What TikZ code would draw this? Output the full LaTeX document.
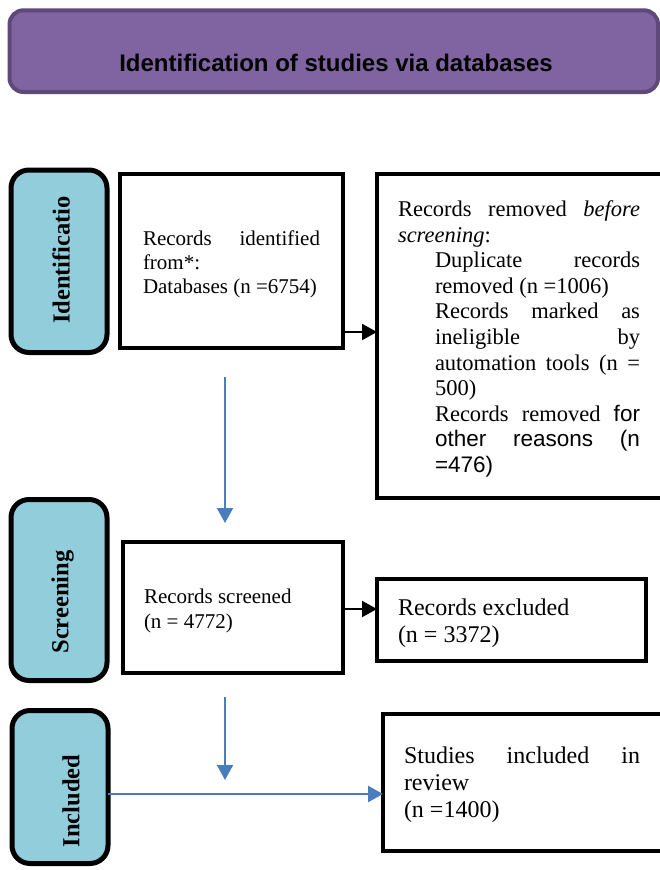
\documentclass[tikz,border=0pt]{standalone}
\usepackage{fontspec}
\setmainfont{Liberation Serif}
\newfontfamily\arialf{Liberation Sans}
\usetikzlibrary{arrows.meta}
\definecolor{bannerfill}{HTML}{8064A2}
\definecolor{bannerline}{HTML}{5F497A}
\definecolor{stagefill}{HTML}{92CDDC}
\definecolor{flowblue}{HTML}{4A7EBB}
\begin{document}
\begin{tikzpicture}[x=1pt,y=-1pt,
  every node/.style={inner sep=0pt, outer sep=0pt},
  banner/.style={draw=bannerline, fill=bannerfill, line width=4pt, rounded corners=14pt},
  stage/.style={draw=black, fill=stagefill, line width=5pt, rounded corners=18pt, minimum width=96pt},
  stagetext/.style={rotate=90, font=\fontsize{24.5}{29}\selectfont\bfseries},
  flowbox/.style={draw=black, fill=white, line width=4pt},
  txt/.style={anchor=base west, align=left},
  blackarrow/.style={line width=2pt, -{Triangle[length=15pt,width=16pt]}},
  bluearrow/.style={draw=flowblue, line width=2.2pt, -{Triangle[length=15pt,width=16pt]}, color=flowblue}]
\useasboundingbox (0,0) rectangle (660,870);
\clip (0,0) rectangle (660,870);
\fill[white] (0,0) rectangle (660,870);

% banner
\node[banner, minimum width=648.5pt, minimum height=81.7pt] (banner) at (333.75,51.15) {};
\node[anchor=base, font=\arialf\fontsize{24}{28}\selectfont\bfseries] (bannertext) at (336,71.5) {Identification of studies via databases};

% stage labels
\node[stage, minimum height=182.5pt] (lbl1) at (59,261.25) {};
\node[stagetext] (lbl1t) at (61,260) {Identificatio};
\node[stage, minimum height=181pt] (lbl2) at (59,590) {};
\node[stagetext] (lbl2t) at (62.5,602) {Screening};
\node[stage, minimum height=153pt] (lbl3) at (60,787) {};
\node[stagetext] (lbl3t) at (71,801) {Included};

% flow boxes
\node[flowbox, minimum width=223pt, minimum height=174.3pt] (b1) at (231.5,260.85) {};
\node[flowbox, minimum width=323pt, minimum height=323.7pt] (removed) at (538.5,335.85) {};
\node[flowbox, minimum width=220pt, minimum height=131pt] (screened) at (233,607.5) {};
\node[flowbox, minimum width=269pt, minimum height=82pt] (excluded) at (511.5,620) {};
\node[flowbox, minimum width=317pt, minimum height=137pt] (studies) at (541.5,782.5) {};

% texts
\node[txt] (b1t) at (143,245) {\vtop{\fontsize{21}{24}\selectfont\lineskiplimit=-50pt
  \hbox to 177pt{Records\hfill identified}
  \hbox{from*:}
  \hbox{Databases (n =6754)}}};

\node[txt] (removedt) at (398,216.5) {\vtop{\fontsize{22.5}{25.6}\selectfont\lineskiplimit=-50pt
  \hbox to 242pt{Records\hfill removed\hfill \textit{before}}
  \hbox{\textit{screening}:}
  \hbox{\hspace{37pt}\hbox to 205pt{Duplicate\hfill records}}
  \hbox{\hspace{37pt}removed (n =1006)}
  \hbox{\hspace{37pt}\hbox to 205pt{Records\hfill marked\hfill as}}
  \hbox{\hspace{37pt}\hbox to 205pt{ineligible\hfill by}}
  \hbox{\hspace{37pt}\hbox to 205pt{automation\hfill tools\hfill (n\hfill =}}
  \hbox{\hspace{37pt}500)}
  \hbox{\hspace{37pt}\hbox to 205pt{Records\hfill removed\hfill {\arialf for}}}
  \hbox{\hspace{37pt}\hbox to 205pt{\arialf other\hfill reasons\hfill (n}}
  \hbox{\hspace{37pt}{\arialf =476)}}}};

\node[txt] (screenedt) at (144,603) {\vtop{\fontsize{21}{25}\selectfont\lineskiplimit=-50pt
  \hbox{Records screened}
  \hbox{(n = 4772)}}};

\node[txt] (excludedt) at (398,615) {\vtop{\fontsize{24}{27}\selectfont\lineskiplimit=-50pt
  \hbox{Records excluded}
  \hbox{(n = 3372)}}};

\node[txt] (studiest) at (404,763) {\vtop{\fontsize{24}{27}\selectfont\lineskiplimit=-50pt
  \hbox to 236pt{Studies\hfill included\hfill in}
  \hbox{review}
  \hbox{(n =1400)}}};

% connectors
\coordinate (a1y) at (0,332);
\coordinate (a2y) at (0,609);
\coordinate (a3y) at (0,794);
\draw[blackarrow] (b1.east |- a1y) -- (removed.west |- a1y);
\draw[blackarrow] (screened.east |- a2y) -- (excluded.west |- a2y);

\coordinate (v1s) at (225,377);
\coordinate (v1e) at (225,523);
\coordinate (v2s) at (225,697);
\coordinate (v2e) at (225,780);
\draw[bluearrow] (v1s) -- (v1e);
\draw[bluearrow] (v2s) -- (v2e);
\draw[bluearrow] (lbl3.east |- a3y) -- (studies.west |- a3y);
\end{tikzpicture}
\end{document}
